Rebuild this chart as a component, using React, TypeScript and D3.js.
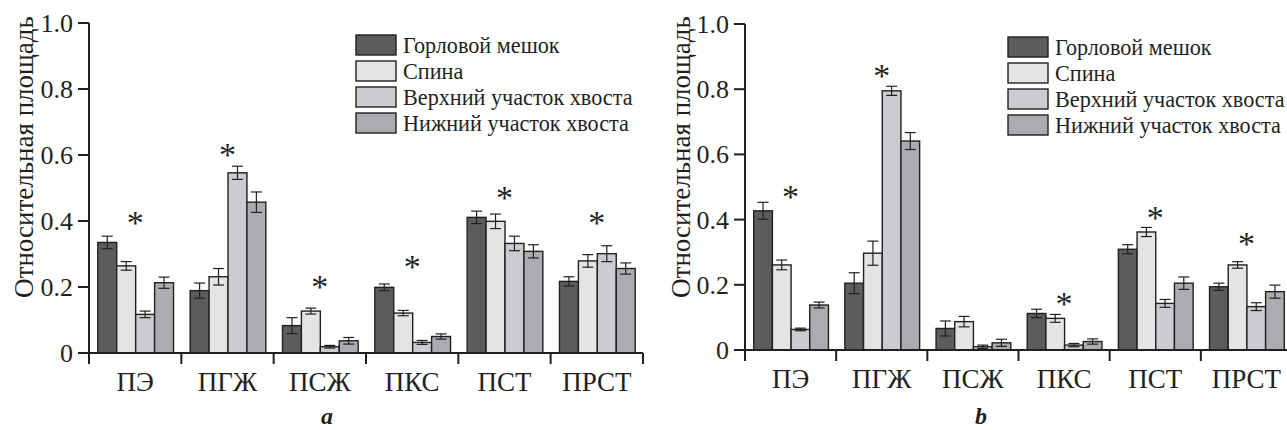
import React from "react";
import * as d3 from "d3";

const categories = ["ПЭ", "ПГЖ", "ПСЖ", "ПКС", "ПСТ", "ПРСТ"];
const seriesNames = ["Горловой мешок", "Спина", "Верхний участок хвоста", "Нижний участок хвоста"];
const yTicks = [0, 0.2, 0.4, 0.6, 0.8, 1.0];
const yTickLabels = ["0", "0.2", "0.4", "0.6", "0.8", "1.0"];
const yAxisTitle = "Относительная площадь";

// Panel a
const aThroat = [0.335, 0.189, 0.083, 0.199, 0.411, 0.217];
const aBack = [0.264, 0.231, 0.127, 0.121, 0.399, 0.279];
const aUpperTail = [0.117, 0.546, 0.019, 0.032, 0.332, 0.301];
const aLowerTail = [0.213, 0.457, 0.037, 0.05, 0.308, 0.256];
const aThroatErr = [0.019, 0.023, 0.024, 0.01, 0.019, 0.014];
const aBackErr = [0.013, 0.025, 0.009, 0.008, 0.022, 0.019];
const aUpperTailErr = [0.01, 0.02, 0.004, 0.006, 0.022, 0.024];
const aLowerTailErr = [0.017, 0.031, 0.01, 0.008, 0.02, 0.017];
const aStars = [0.41, 0.615, 0.215, 0.275, 0.485, 0.41];

// Panel b
const bThroat = [0.427, 0.205, 0.066, 0.112, 0.309, 0.194];
const bBack = [0.261, 0.297, 0.087, 0.097, 0.362, 0.261];
const bUpperTail = [0.063, 0.795, 0.01, 0.015, 0.143, 0.133];
const bLowerTail = [0.138, 0.641, 0.022, 0.026, 0.205, 0.179];
const bThroatErr = [0.026, 0.032, 0.023, 0.013, 0.014, 0.011];
const bBackErr = [0.015, 0.037, 0.016, 0.012, 0.014, 0.01];
const bUpperTailErr = [0.004, 0.014, 0.005, 0.005, 0.012, 0.012];
const bLowerTailErr = [0.009, 0.026, 0.011, 0.008, 0.019, 0.02];
const bStars: (number | null)[] = [0.486, 0.856, null, 0.155, 0.419, 0.34];

const FILLS = ["#5b5c5e", "#e3e4e6", "#cbcccf", "#abacaf"];
const INK = "#231f20";
const FONT = "Liberation Serif, Tinos, DejaVu Serif, Times New Roman, serif";

type PanelProps = {
  left: number;
  right: number;
  y0: number;
  y1: number;
  values: number[][];
  errors: number[][];
  stars: (number | null)[];
  legendX: number;
  legendY: number;
  titleX: number;
  label: string;
  labelX: number;
};

function Panel(p: PanelProps) {
  const x0 = d3.scaleBand<string>().domain(categories).range([p.left, p.right]).padding(0);
  const bw = x0.bandwidth();
  const clusterW = bw * 0.82;
  const x1 = d3
    .scaleBand<string>()
    .domain(seriesNames)
    .range([(bw - clusterW) / 2 + 0.5, (bw + clusterW) / 2 + 0.5])
    .padding(0);
  const y = d3.scaleLinear().domain([0, 1]).range([p.y0, p.y1]);
  const tickLen = 11;
  const cap = 5.5;
  const txt = { fontFamily: FONT, fill: INK } as React.CSSProperties;

  return (
    <g>
      {categories.map((c, ci) => (
        <g key={c}>
          {seriesNames.map((s, si) => {
            const v = p.values[si][ci];
            const e = p.errors[si][ci];
            const bx = (x0(c) as number) + (x1(s) as number);
            const cx = bx + x1.bandwidth() / 2;
            const lo = y(Math.max(0, v - e));
            const hi = y(v + e);
            return (
              <g key={s}>
                <rect
                  x={bx}
                  y={y(v)}
                  width={x1.bandwidth()}
                  height={p.y0 - y(v)}
                  fill={FILLS[si]}
                  stroke={INK}
                  strokeWidth={1.4}
                />
                <line x1={cx} x2={cx} y1={hi} y2={lo} stroke={INK} strokeWidth={1.2} />
                <line x1={cx - cap} x2={cx + cap} y1={hi} y2={hi} stroke={INK} strokeWidth={1.2} />
                <line x1={cx - cap} x2={cx + cap} y1={lo} y2={lo} stroke={INK} strokeWidth={1.2} />
              </g>
            );
          })}
          {p.stars[ci] != null && (
            <text
              x={(x0(c) as number) + bw / 2}
              y={y(p.stars[ci] as number) + 16}
              textAnchor="middle"
              style={{ ...txt, fontSize: 34 }}
            >
              *
            </text>
          )}
        </g>
      ))}
      <line x1={p.left} x2={p.right} y1={p.y0} y2={p.y0} stroke={INK} strokeWidth={2} />
      {categories.map((c) => (
        <line
          key={"t" + c}
          x1={(x0(c) as number) + bw}
          x2={(x0(c) as number) + bw}
          y1={p.y0}
          y2={p.y0 + tickLen}
          stroke={INK}
          strokeWidth={2}
        />
      ))}
      {categories.map((c) => (
        <text
          key={"l" + c}
          x={(x0(c) as number) + bw / 2}
          y={p.y0 + 38}
          textAnchor="middle"
          style={{ ...txt, fontSize: 27 }}
        >
          {c}
        </text>
      ))}
      <line x1={p.left} x2={p.left} y1={p.y1} y2={p.y0 + tickLen} stroke={INK} strokeWidth={2} />
      {yTicks.map((t, i) => (
        <g key={"y" + t}>
          <line x1={p.left - tickLen} x2={p.left} y1={y(t)} y2={y(t)} stroke={INK} strokeWidth={2} />
          <text x={p.left - 16} y={y(t) + 9} textAnchor="end" style={{ ...txt, fontSize: 26 }}>
            {yTickLabels[i]}
          </text>
        </g>
      ))}
      <text
        transform={`translate(${p.titleX},157) rotate(-90)`}
        textAnchor="middle"
        style={{ ...txt, fontSize: 27 }}
      >
        {yAxisTitle}
      </text>
      {seriesNames.map((s, si) => (
        <g key={"lg" + s} transform={`translate(${p.legendX},${p.legendY + si * 26})`}>
          <rect x={0} y={0} width={40} height={20} fill={FILLS[si]} stroke={INK} strokeWidth={1.4} />
          <text x={47} y={18} style={{ ...txt, fontSize: 22.2 }}>
            {s}
          </text>
        </g>
      ))}
      <text
        x={p.labelX}
        y={424}
        textAnchor="middle"
        style={{ ...txt, fontSize: 24, fontWeight: "bold", fontStyle: "italic" }}
      >
        {p.label}
      </text>
    </g>
  );
}

export default function App() {
  return (
    <svg width={1287} height={430} style={{ position: "absolute", left: 0, top: 0, background: "#fff" }}>
      <rect width={1287} height={430} fill="#fff" />
      <Panel
        left={89}
        right={643}
        y0={353}
        y1={23}
        values={[aThroat, aBack, aUpperTail, aLowerTail]}
        errors={[aThroatErr, aBackErr, aUpperTailErr, aLowerTailErr]}
        stars={aStars}
        legendX={356}
        legendY={35}
        titleX={33}
        label="a"
        labelX={327}
      />
      <Panel
        left={745}
        right={1292}
        y0={350}
        y1={24}
        values={[bThroat, bBack, bUpperTail, bLowerTail]}
        errors={[bThroatErr, bBackErr, bUpperTailErr, bLowerTailErr]}
        stars={bStars}
        legendX={1008}
        legendY={37}
        titleX={690}
        label="b"
        labelX={981}
      />
    </svg>
  );
}
